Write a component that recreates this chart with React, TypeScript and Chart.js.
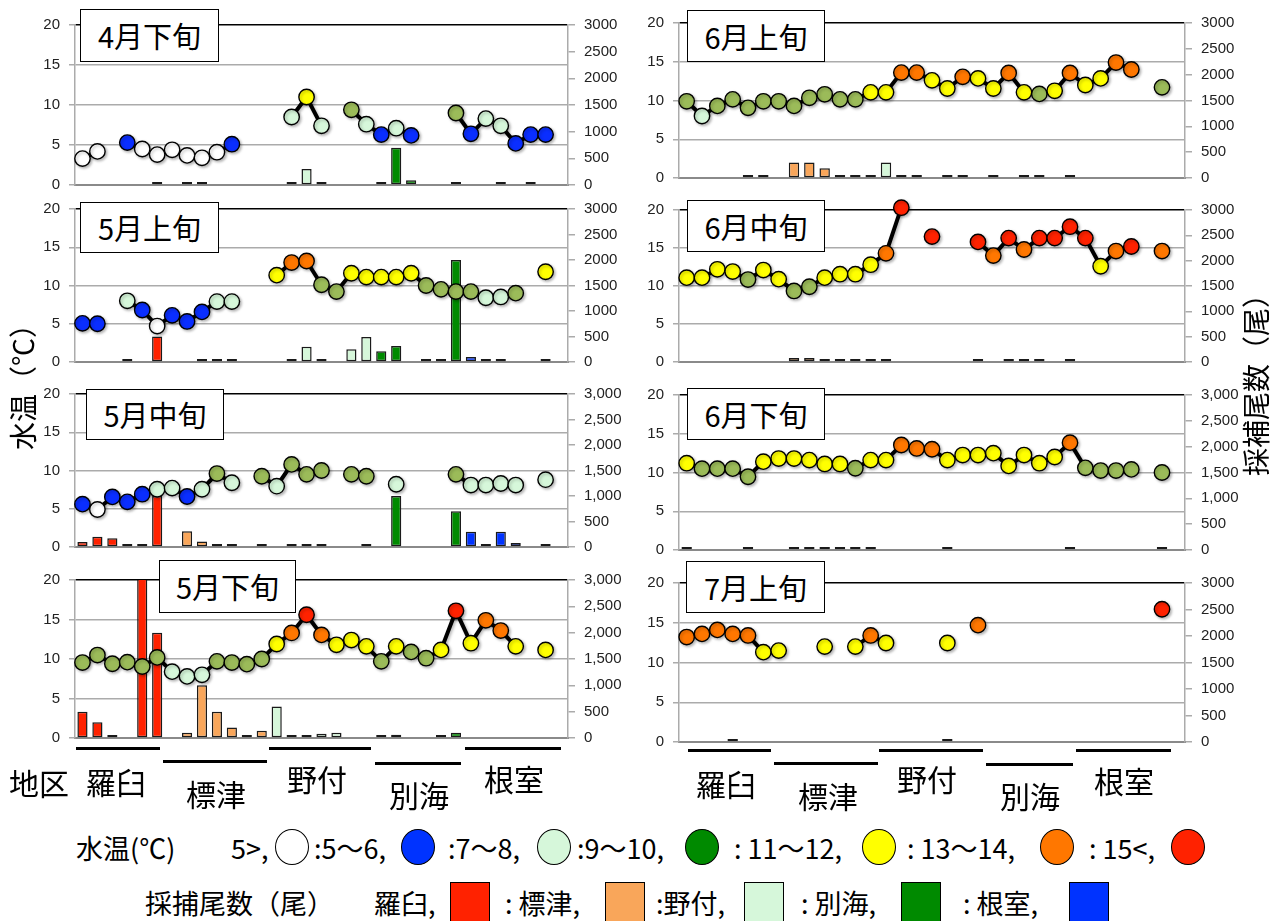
import React, { useEffect, useRef } from 'react';
import { Chart, registerables } from 'chart.js';

Chart.register(...registerables);

const JP = '"Noto Sans CJK JP", "Noto Sans", sans-serif';
const NUM = '"Liberation Sans", "DejaVu Sans", sans-serif';

// ---- categories ----
const REGIONS = ['羅臼', '標津', '野付', '別海', '根室'];
const REGION_SIZES = [6, 7, 7, 6, 7];
const REGION_BAR_COLORS = ['#FF2200', '#F9A65A', '#D6F7DA', '#008A00', '#0033FF'];
const STATION_REGION: number[] = REGION_SIZES.flatMap((n, r) => Array(n).fill(r));
const STATIONS = STATION_REGION.map((r, i) => `${REGIONS[r]}${i + 1}`);

// temperature class colours: w <5, b 5-6, l 7-8, g 9-10, y 11-12, o 13-14, r 15<
const CLASS_COLORS: Record<string, string> = {
  w: '#FFFFFF', b: '#0A2EFF', l: '#D6F7DA', g: '#9BBB59', y: '#FFFF00', o: '#FF7700', r: '#FF2200',
};

// ---- 4月下旬 ----
const TEMP_APR_LATE = [
  3.3, 4.2, null, 5.3, 4.5, 3.8,
  4.4, 3.7, 3.4, 4.1, 5.1, null, null,
  null, 8.5, 11.0, 7.4, null, 9.4, 7.6,
  6.3, 7.1, 6.2, null, null, 9.0,
  6.4, 8.3, 7.4, 5.2, 6.3, 6.3, null,
];
const CLS_APR_LATE = 'ww.bww|wwwwb..|.lyl.gl|blb..g|bllbbb.';
const CATCH_APR_LATE = [
  null, null, null, null, null, 25,
  null, 0, 0, null, null, null, null,
  null, 0, 300, 0, null, null, null,
  0, 700, 90, null, null, 0,
  null, null, 0, null, 0, null, null,
];

// ---- 5月上旬 ----
const TEMP_MAY_EARLY = [
  5.05, 5.0, null, 8.0, 6.8, 4.7,
  6.1, 5.3, 6.55, 7.9, 7.9, null, null,
  11.35, 13.0, 13.2, 10.1, 9.2, 11.6, 11.1,
  11.1, 11.1, 11.6, 10.0, 9.5, 9.2,
  9.2, 8.4, 8.5, 9.0, null, 11.8, null,
];
const CLS_MAY_EARLY = 'bb.lbw|bbbll..|yooggyy|yyyggg|gllg.y.';
const CATCH_MAY_EARLY = [
  null, null, null, 0, null, 500,
  null, null, 0, 0, 0, null, null,
  null, 0, 300, 0, null, 250, 490,
  210, 315, null, 0, 0, 2000,
  100, 50, 0, null, null, 45, null,
];

// ---- 5月中旬 ----
const TEMP_MAY_MID = [
  5.6, 4.9, 6.55, 5.9, 6.9, 7.55,
  7.7, 6.6, 7.55, 9.6, 8.4, null, 9.25,
  7.95, 10.8, 9.5, 10.0, null, 9.5, 9.25,
  null, 8.2, null, null, null, 9.5,
  8.1, 8.1, 8.3, 8.1, null, 8.8, null,
];
const CLS_MAY_MID = 'bwbbbl|lblgl.g|lggg.gg|.l...g|llll.l.';
const CATCH_MAY_MID = [
  100, 200, 170, 0, 0, 1000,
  null, 310, 110, 0, 0, null, 0,
  null, 0, 0, 0, null, null, 0,
  null, 1000, null, null, null, 700,
  300, 0, 300, 80, null, 0, null,
];

// ---- 5月下旬 ----
const TEMP_MAY_LATE = [
  9.55, 10.5, 9.4, 9.6, 9.05, 10.2,
  8.4, 7.8, 8.0, 9.7, 9.55, 9.35, 10.0,
  11.9, 13.3, 15.6, 13.05, 11.8, 12.4, 11.6,
  9.7, 11.6, 10.9, 10.1, 11.15, 16.1,
  12.0, 14.9, 13.6, 11.6, null, 11.15, null,
];
const CLS_MAY_LATE = 'gggggg|lllgggg|yoroyyy|gyggyr|yooy.y.';
const CATCH_MAY_LATE = [
  500, 300, 50, null, 3200, 2000,
  null, 100, 1000, 500, 200, 0, 140,
  600, 0, 0, 80, 100, null, null,
  0, 60, null, null, 50, 100,
  null, null, null, null, null, null, null,
];

// ---- 6月上旬 ----
const TEMP_JUN_EARLY = [
  9.9, 8.0, 9.3, 10.15, 9.05, 9.9,
  9.9, 9.3, 10.35, 10.8, 10.15, 10.15, 11.05,
  11.05, 13.6, 13.6, 12.6, 11.55, 13.05, 12.85,
  11.55, 13.55, 11.05, 10.85, 11.25, 13.55,
  12.0, 12.85, 14.9, 14.0, null, 11.7, null,
];
const CLS_JUN_EARLY = 'glgggg|ggggggy|yooyyoy|yoygyo|yyoo.g.';
const CATCH_JUN_EARLY = [
  null, null, null, null, 20, 0,
  null, 300, 300, 190, 0, 0, 0,
  300, 0, 0, null, 0, 0, null,
  0, null, 60, 0, null, 0,
  null, null, null, null, null, null, null,
];

// ---- 6月中旬 ----
const TEMP_JUN_MID = [
  11.1, 11.1, 12.2, 11.9, 10.85, 12.1,
  10.9, 9.35, 9.9, 11.1, 11.55, 11.55, 12.8,
  14.3, 20.3, null, 16.5, null, null, 15.8,
  14.0, 16.3, 14.8, 16.3, 16.3, 17.8,
  16.3, 12.6, 14.6, 15.2, null, 14.6, null,
];
const CLS_JUN_MID = 'yyyygy|yggyyyy|or.r..r|ororrr|ryor.o.';
const CATCH_JUN_MID = [
  null, null, null, null, null, null,
  null, 80, 80, 0, 0, 0, 0,
  0, null, null, null, null, null, 0,
  null, 0, 0, 15, null, 0,
  null, null, null, null, null, null, null,
];

// ---- 6月下旬 ----
const TEMP_JUN_LATE = [
  11.2, 10.5, 10.5, 10.5, 9.45, 11.4,
  11.8, 11.8, 11.6, 11.1, 11.1, 10.55, 11.6,
  11.6, 13.55, 13.1, 13.0, 11.6, 12.25, 12.25,
  12.5, 10.85, 12.25, 11.2, 12.0, 13.85,
  10.6, 10.25, 10.25, 10.4, null, 10.0, null,
];
const CLS_JUN_LATE = 'yggggy|yyyyygy|yoooyyy|yyyyyo|gggg.g.';
const CATCH_JUN_LATE = [
  0, null, null, null, 20, null,
  null, 0, 0, 0, 0, 0, 0,
  null, null, null, null, 0, null, null,
  null, null, null, null, null, 0,
  null, null, null, null, null, 0, null,
];

// ---- 7月上旬 ----
const TEMP_JUL_EARLY = [
  13.2, 13.6, 14.1, 13.6, 13.4, 11.3,
  11.5, null, null, 12.0, null, 12.0, 13.4,
  12.45, null, null, null, 12.45, null, 14.7,
  null, null, null, null, null, null,
  null, null, null, null, null, 16.7, null,
];
const CLS_JUL_EARLY = 'oooooy|y..y.yo|y...y.o|......|.....r.';
const CATCH_JUL_EARLY = [
  null, null, null, 0, null, null,
  null, null, null, null, null, null, null,
  null, null, null, null, 0, null, null,
  null, null, null, null, null, null,
  null, null, null, null, null, null, null,
];

const PANELS = [
  { title: '4月下旬', temp: TEMP_APR_LATE, cls: CLS_APR_LATE, fish: CATCH_APR_LATE, comma: false },
  { title: '5月上旬', temp: TEMP_MAY_EARLY, cls: CLS_MAY_EARLY, fish: CATCH_MAY_EARLY, comma: false },
  { title: '5月中旬', temp: TEMP_MAY_MID, cls: CLS_MAY_MID, fish: CATCH_MAY_MID, comma: true },
  { title: '5月下旬', temp: TEMP_MAY_LATE, cls: CLS_MAY_LATE, fish: CATCH_MAY_LATE, comma: true },
  { title: '6月上旬', temp: TEMP_JUN_EARLY, cls: CLS_JUN_EARLY, fish: CATCH_JUN_EARLY, comma: false },
  { title: '6月中旬', temp: TEMP_JUN_MID, cls: CLS_JUN_MID, fish: CATCH_JUN_MID, comma: false },
  { title: '6月下旬', temp: TEMP_JUN_LATE, cls: CLS_JUN_LATE, fish: CATCH_JUN_LATE, comma: true },
  { title: '7月上旬', temp: TEMP_JUL_EARLY, cls: CLS_JUL_EARLY, fish: CATCH_JUL_EARLY, comma: false },
];

// ---- layout (pixels) ----
const PAD = 24;
const LEFT_COL = { x: 0, w: 630, lw: 75, rw: 62 };
const RIGHT_COL = { x: 630, w: 647, lw: 49, rw: 92 };
const LAYOUT = [
  { ...LEFT_COL, y20: 25, y0: 185, box: { x: 80, y: 9, w: 139, h: 53 } },
  { ...LEFT_COL, y20: 209, y0: 362, box: { x: 80, y: 202, w: 139, h: 51 } },
  { ...LEFT_COL, y20: 394, y0: 547, box: { x: 86, y: 389, w: 138, h: 51 } },
  { ...LEFT_COL, y20: 580, y0: 738, box: { x: 159, y: 560, w: 137, h: 53 } },
  { ...RIGHT_COL, y20: 23, y0: 178, box: { x: 687, y: 10, w: 138, h: 52 } },
  { ...RIGHT_COL, y20: 210, y0: 362, box: { x: 687, y: 200, w: 138, h: 52 } },
  { ...RIGHT_COL, y20: 395, y0: 550, box: { x: 687, y: 388, w: 138, h: 52 } },
  { ...RIGHT_COL, y20: 583, y0: 742, box: { x: 686, y: 561, w: 139, h: 52 } },
];

const REGION_MARKS = [
  // left column
  { lines: [[76, 160, 748], [163, 267, 761], [269, 371, 748], [375, 461, 763], [465, 561, 748]],
    labels: [[116, 781], [216, 793], [317, 778], [419, 794], [514, 778]] },
  // right column
  { lines: [[688, 771, 750], [774, 878, 763], [879, 983, 750], [986, 1073, 764], [1076, 1171, 750]],
    labels: [[726, 783], [828, 795], [927, 778], [1030, 795], [1124, 780]] },
];

const LEGEND_TEMP = [
  { t: 'text', x: 76, s: '水温(℃)' },
  { t: 'text', x: 231, s: '5>,' },
  { t: 'dot', x: 275, c: '#FFFFFF' },
  { t: 'text', x: 314, s: ':5〜6,' },
  { t: 'dot', x: 401, c: '#0033FF' },
  { t: 'text', x: 448, s: ':7〜8,' },
  { t: 'dot', x: 537, c: '#D6F7DA' },
  { t: 'text', x: 577, s: ':9〜10,' },
  { t: 'dot', x: 685, c: '#008A00' },
  { t: 'text', x: 734, s: ': 11〜12,' },
  { t: 'dot', x: 862, c: '#FFFF00' },
  { t: 'text', x: 907, s: ': 13〜14,' },
  { t: 'dot', x: 1040, c: '#FF7700' },
  { t: 'text', x: 1089, s: ': 15<,' },
  { t: 'dot', x: 1171, c: '#FF2200' },
];
const LEGEND_CATCH = [
  { t: 'text', x: 145, s: '採捕尾数（尾）' },
  { t: 'text', x: 374, s: '羅臼,' },
  { t: 'sq', x: 450, c: REGION_BAR_COLORS[0] },
  { t: 'text', x: 505, s: ': 標津,' },
  { t: 'sq', x: 605, c: REGION_BAR_COLORS[1] },
  { t: 'text', x: 656, s: ':野付,' },
  { t: 'sq', x: 744, c: REGION_BAR_COLORS[2] },
  { t: 'text', x: 801, s: ': 別海,' },
  { t: 'sq', x: 901, c: REGION_BAR_COLORS[3] },
  { t: 'text', x: 963, s: ': 根室,' },
  { t: 'sq', x: 1069, c: REGION_BAR_COLORS[4] },
];

const shadowPlugin = {
  id: 'pointShadow',
  beforeDatasetDraw(chart: any, args: any) {
    if (args.meta.type === 'line') {
      const ctx = chart.ctx;
      ctx.save();
      ctx.shadowColor = 'rgba(0,0,0,0.28)';
      ctx.shadowBlur = 3;
      ctx.shadowOffsetX = 1.5;
      ctx.shadowOffsetY = 1.5;
    }
  },
  afterDatasetDraw(chart: any, args: any) {
    if (args.meta.type === 'line') chart.ctx.restore();
  },
};

function ChartPanel({ panel, lay }: any) {
  const ref = useRef<HTMLCanvasElement | null>(null);
  const H = lay.y0 - lay.y20 + PAD * 2;
  useEffect(() => {
    const canvas = ref.current;
    if (!canvas) return;
    const cls = panel.cls.replace(/\|/g, '');
    const pointColors = cls.split('').map((c: string) => CLASS_COLORS[c] || '#FFFFFF');
    const barColors = STATION_REGION.map((r) => REGION_BAR_COLORS[r]);
    const grey = '#ABABAB';
    const tickFont = { family: NUM, size: 15 };
    const chart = new Chart(canvas, {
      type: 'bar',
      data: {
        labels: STATIONS,
        datasets: [
          {
            type: 'line',
            data: panel.temp,
            yAxisID: 'y',
            borderColor: '#000000',
            borderWidth: 4,
            pointRadius: 7.7,
            pointHoverRadius: 7.7,
            pointBackgroundColor: pointColors,
            pointBorderColor: '#000000',
            pointBorderWidth: 1.4,
            spanGaps: false,
            tension: 0,
            clip: false,
            order: 1,
          } as any,
          {
            type: 'bar',
            data: panel.fish,
            yAxisID: 'y1',
            backgroundColor: barColors,
            borderColor: '#1a1a1a',
            borderWidth: 1.5,
            borderSkipped: false,
            minBarLength: 3,
            categoryPercentage: 1,
            barPercentage: 0.68,
            order: 2,
          } as any,
        ],
      },
      options: {
        animation: false,
        responsive: false,
        devicePixelRatio: 1,
        events: [],
        layout: { padding: { top: PAD, bottom: PAD, left: 0, right: 0 } },
        plugins: { legend: { display: false }, tooltip: { enabled: false }, title: { display: false } },
        scales: {
          x: {
            type: 'category',
            offset: true,
            grid: { display: false },
            ticks: { display: false },
            border: { display: true, color: '#8A8A8A', width: 2 },
            afterFit: (s: any) => { s.height = 0; },
          },
          y: {
            position: 'left',
            min: 0,
            max: 20,
            ticks: { stepSize: 5, color: '#222222', font: tickFont, padding: 9 },
            grid: {
              color: (c: any) => (c.tick && c.tick.value === 20 ? '#000000' : grey),
              lineWidth: 1.5,
              tickLength: 6,
              tickColor: grey,
            },
            border: { display: true, color: grey, width: 1.5 },
            afterFit: (s: any) => { s.width = lay.lw; },
          },
          y1: {
            position: 'right',
            min: 0,
            max: 3000,
            ticks: {
              stepSize: 500,
              color: '#222222',
              font: tickFont,
              padding: 9,
              callback: (v: any) => (panel.comma ? Number(v).toLocaleString('en-US') : String(v)),
            },
            grid: { drawOnChartArea: false, tickLength: 7, color: grey, lineWidth: 1.5 },
            border: { display: true, color: grey, width: 1.5 },
            afterFit: (s: any) => { s.width = lay.rw; },
          },
        },
      } as any,
      plugins: [shadowPlugin as any],
    });
    return () => chart.destroy();
  }, [panel, lay]);
  return (
    <canvas
      ref={ref}
      width={lay.w}
      height={H}
      style={{ position: 'absolute', left: lay.x, top: lay.y20 - PAD, width: lay.w, height: H }}
    />
  );
}

function TitleBox({ text, box }: any) {
  return (
    <div
      style={{
        position: 'absolute', left: box.x, top: box.y, width: box.w, height: box.h,
        boxSizing: 'border-box', border: '1.6px solid #000', background: '#FFFFFF',
        display: 'flex', alignItems: 'center', justifyContent: 'center',
        fontFamily: JP, fontSize: 29, color: '#000', lineHeight: 1,
      }}
    >
      {text}
    </div>
  );
}

function LegendRow({ items, cy }: any) {
  return (
    <>
      {items.map((it: any, i: number) => {
        if (it.t === 'text') {
          return (
            <div key={i} style={{ position: 'absolute', left: it.x, top: cy, transform: 'translateY(-50%)', fontFamily: JP, fontSize: 27, lineHeight: 1, whiteSpace: 'nowrap', color: '#000' }}>
              {it.s}
            </div>
          );
        }
        const w = it.t === 'dot' ? 34 : 40;
        const h = it.t === 'dot' ? 36 : 40;
        return (
          <div key={i} style={{
            position: 'absolute', left: it.x, top: cy - h / 2, width: w, height: h,
            boxSizing: 'border-box', border: '1.8px solid #000', background: it.c,
            borderRadius: it.t === 'dot' ? '50%' : 0,
          }} />
        );
      })}
    </>
  );
}

export default function App() {
  return (
    <div style={{ position: 'absolute', left: 0, top: 0, width: 1277, height: 921, background: '#FFFFFF', overflow: 'hidden', fontFamily: JP }}>
      {PANELS.map((p, i) => (
        <ChartPanel key={i} panel={p} lay={LAYOUT[i]} />
      ))}
      {PANELS.map((p, i) => (
        <TitleBox key={'t' + i} text={p.title} box={LAYOUT[i].box} />
      ))}
      {REGION_MARKS.map((rm, k) => (
        <React.Fragment key={'r' + k}>
          {rm.lines.map((ln, i) => (
            <div key={'l' + i} style={{ position: 'absolute', left: ln[0], top: ln[2] - 1.5, width: ln[1] - ln[0], height: 3, background: '#000' }} />
          ))}
          {rm.labels.map((lb, i) => (
            <div key={'s' + i} style={{ position: 'absolute', left: lb[0], top: lb[1], transform: 'translate(-50%,-50%)', fontSize: 30, lineHeight: 1, whiteSpace: 'nowrap', fontFamily: JP, color: '#000' }}>
              {REGIONS[i]}
            </div>
          ))}
        </React.Fragment>
      ))}
      <div style={{ position: 'absolute', left: 39, top: 782, transform: 'translate(-50%,-50%)', fontSize: 30, lineHeight: 1, whiteSpace: 'nowrap', fontFamily: JP }}>地区</div>
      <div style={{ position: 'absolute', left: 22, top: 380, transform: 'translate(-50%,-50%) rotate(-90deg)', fontSize: 28, lineHeight: 1, whiteSpace: 'nowrap', fontFamily: JP }}>水温（℃）</div>
      <div style={{ position: 'absolute', left: 1255, top: 378, transform: 'translate(-50%,-50%) rotate(-90deg)', fontSize: 28, lineHeight: 1, whiteSpace: 'nowrap', fontFamily: JP }}>採補尾数（尾）</div>
      <LegendRow items={LEGEND_TEMP} cy={847} />
      <LegendRow items={LEGEND_CATCH} cy={902} />
    </div>
  );
}
